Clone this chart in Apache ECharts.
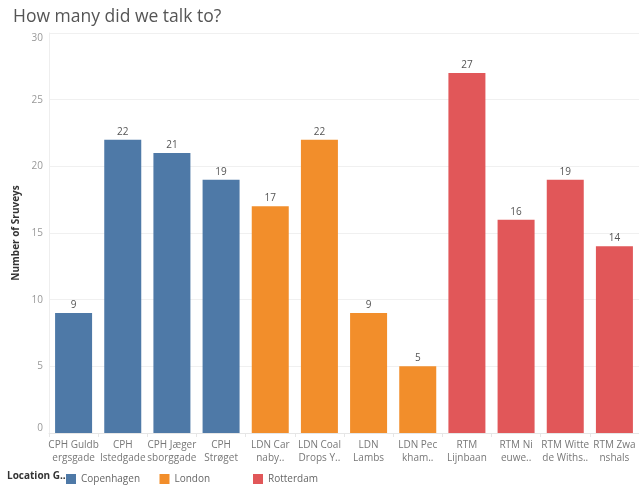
<!DOCTYPE html>
<html>
<head>
<meta charset="utf-8">
<script src="https://cdn.jsdelivr.net/npm/echarts@6/dist/echarts.min.js"></script>
<style>
  html, body { margin: 0; padding: 0; background: #fff; }
  #chart { width: 639px; height: 486px; }
</style>
</head>
<body>
<div id="chart"></div>
<script>
var categories = [
  'CPH Guldb\nergsgade', 'CPH\nIstedgade', 'CPH Jæger\nsborggade', 'CPH\nStrøget',
  'LDN Car\nnaby..', 'LDN Coal\nDrops Y..', 'LDN\nLambs', 'LDN Pec\nkham..',
  'RTM\nLijnbaan', 'RTM Ni\neuwe..', 'RTM Witte\nde Withs..', 'RTM Zwa\nnshals'
]
var copenhagen = [9, 22, 21, 19, '-', '-', '-', '-', '-', '-', '-', '-']
var london = ['-', '-', '-', '-', 17, 22, 9, 5, '-', '-', '-', '-']
var rotterdam = ['-', '-', '-', '-', '-', '-', '-', '-', 27, 16, 19, 14]
var groups = ['Copenhagen', 'London', 'Rotterdam']
var colors = ['#4e79a7', '#f28e2b', '#e15759']
var yTicks = [0, 5, 10, 15, 20, 25, 30]

var font = '"Open Sans", "DejaVu Sans", sans-serif'

function barSeries(name, data, color) {
  return {
    name: name,
    type: 'bar',
    stack: 'all',
    data: data,
    barWidth: 37,
    itemStyle: { color: color },
    label: {
      show: true,
      position: 'top',
      distance: 3,
      color: '#555',
      fontSize: 10,
      fontFamily: font
    }
  }
}

// one legend per group so the items sit at fixed spots like the original
var legends = groups.map(function (g, i) {
  return {
    left: 61 + i * 93.5,
    top: 469,
    itemWidth: 10,
    itemHeight: 10,
    icon: 'rect',
    textStyle: { color: '#666', fontSize: 10, fontFamily: font },
    data: [g]
  }
})

var myChart = echarts.init(document.getElementById('chart'))
myChart.setOption({
  animation: false,
  title: {
    text: 'How many did we talk to?',
    left: 8,
    top: 3,
    textStyle: { color: '#555', fontSize: 17.5, fontWeight: 'normal', fontFamily: font }
  },
  legend: legends,
  graphic: [{
    type: 'text',
    left: 7,
    top: 471,
    style: { text: 'Location G...', fill: '#333', font: 'bold 10px ' + font }
  }],
  grid: { left: 49, top: 33, width: 600, height: 400 },
  xAxis: {
    type: 'category',
    data: categories,
    axisLine: { lineStyle: { color: '#e6e6e6' } },
    axisTick: { show: true, length: 4, lineStyle: { color: '#e6e6e6' } },
    axisLabel: { color: '#777', fontSize: 10, fontFamily: font, lineHeight: 13, margin: 6, interval: 0 }
  },
  yAxis: {
    type: 'value',
    min: yTicks[0],
    max: yTicks[yTicks.length - 1],
    interval: 5,
    name: 'Number of Sruveys',
    nameLocation: 'middle',
    nameGap: 24,
    nameTextStyle: { color: '#333', fontSize: 10, fontWeight: 'bold', fontFamily: font },
    axisLine: { show: true, lineStyle: { color: '#eeeeee' } },
    axisTick: { show: false },
    splitLine: { lineStyle: { color: '#f0f0f0' } },
    axisLabel: {
      color: '#999', fontSize: 10, fontFamily: font, margin: 6,
      verticalAlignMinLabel: 'bottom', verticalAlignMaxLabel: 'top'
    }
  },
  series: [
    barSeries(groups[0], copenhagen, colors[0]),
    barSeries(groups[1], london, colors[1]),
    barSeries(groups[2], rotterdam, colors[2])
  ]
})
</script>
</body>
</html>
